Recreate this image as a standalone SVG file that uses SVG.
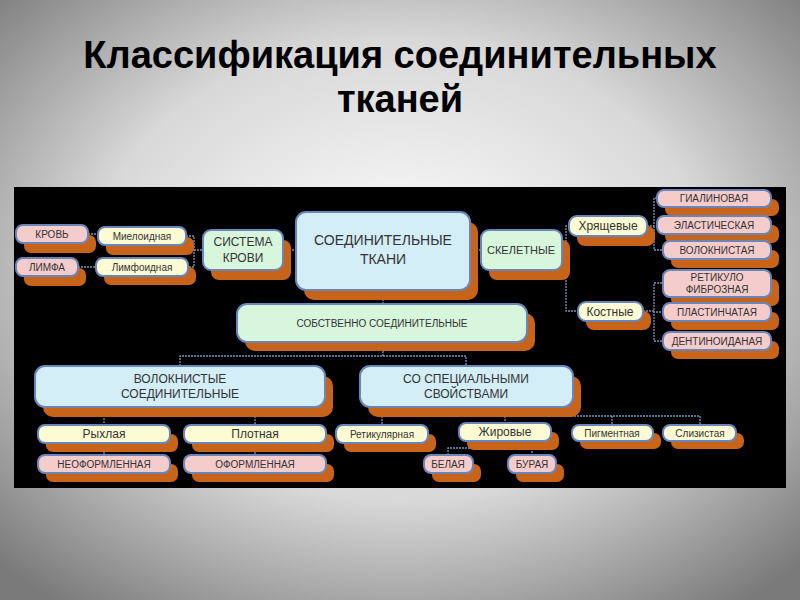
<svg xmlns="http://www.w3.org/2000/svg" width="800" height="600" viewBox="0 0 800 600">
<defs>
<radialGradient id="bg" cx="50%" cy="45%" r="70%"><stop offset="0" stop-color="#ffffff"/><stop offset="0.55" stop-color="#d8d8d8"/><stop offset="1" stop-color="#7a7a7a"/></radialGradient>
</defs>
<style>
.sh{fill:#c8641a}
.b{stroke:#6a86b8;stroke-width:2}
.pk{fill:#f4cccc}.yl{fill:#fdfbd4}.gr{fill:#d8f6dc}.bl{fill:#d4eef8}
text{font-family:"Liberation Sans",Arial,sans-serif;fill:#333;text-anchor:middle}
.s{font-size:10px}.m{font-size:12px}.l{font-size:14px}
.c{fill:none;stroke:#7c94bf;stroke-width:1.3;stroke-dasharray:2 1}
</style>
<rect width="800" height="600" fill="url(#bg)"/>
<text x="400" y="68" style="font-size:38px;font-weight:bold;fill:#000">Классификация соединительных</text>
<text x="400" y="112" style="font-size:38px;font-weight:bold;fill:#000">тканей</text>
<rect x="14" y="187" width="772" height="301" fill="#000"/>
<g id="connectors">
<path class="c" d="M88 234H98M78 267H96M186 236H194V267H188M194 250H203M283 250H296M470 250H481M562 250H566V226H569M566 250V311H578M647 226H654V198H657M654 226V250H663M643 311H654V283H663M654 311V312H663M654 311V341H663M383 290V304M383 342V356H180V366M383 356H466V366M180 407V416H104V425M180 416H255V425M104 443V455M255 443V455M466 407V416H382V425M466 416H700V425M505 416V423M612 416V425M505 441V448H448V455M505 448H532V455"/>
</g>
<g id="krov"><rect class="sh" x="24" y="235" width="72" height="18" rx="7"/><rect class="pk b" x="16" y="225" width="72" height="18" rx="7"/><text class="s" x="52" y="238">КРОВЬ</text></g>
<g id="limfa"><rect class="sh" x="24" y="268" width="62" height="18" rx="7"/><rect class="pk b" x="16" y="258" width="62" height="18" rx="7"/><text class="s" x="47" y="271">ЛИМФА</text></g>
<g id="mieloid"><rect class="sh" x="106" y="237" width="88" height="18" rx="7"/><rect class="yl b" x="98" y="227" width="88" height="18" rx="7"/><text class="s" x="142" y="240">Миелоидная</text></g>
<g id="limfoid"><rect class="sh" x="104" y="267" width="92" height="18" rx="7"/><rect class="yl b" x="96" y="258" width="92" height="18" rx="7"/><text class="s" x="142" y="271">Лимфоидная</text></g>
<g id="sistema"><rect class="sh" x="211" y="240" width="80" height="40" rx="8"/><rect class="gr b" x="203" y="230" width="80" height="40" rx="8"/><text class="m" x="243" y="246">СИСТЕМА</text><text class="m" x="243" y="262">КРОВИ</text></g>
<g id="soed"><rect class="sh" x="304" y="222" width="174" height="78" rx="10"/><rect class="bl b" x="296" y="212" width="174" height="78" rx="10"/><text class="l" x="383" y="245">СОЕДИНИТЕЛЬНЫЕ</text><text class="l" x="383" y="264">ТКАНИ</text></g>
<g id="skelet"><rect class="sh" x="489" y="240" width="81" height="40" rx="8"/><rect class="gr b" x="481" y="230" width="81" height="40" rx="8"/><text x="521" y="254" style="font-size:11px">СКЕЛЕТНЫЕ</text></g>
<g id="hrysh"><rect class="sh" x="577" y="226" width="78" height="20" rx="8"/><rect class="yl b" x="569" y="216" width="78" height="20" rx="8"/><text class="m" x="608" y="230">Хрящевые</text></g>
<g id="kost"><rect class="sh" x="586" y="311" width="65" height="19" rx="8"/><rect class="yl b" x="578" y="302" width="65" height="19" rx="8"/><text class="m" x="610" y="316">Костные</text></g>
<g id="gial"><rect class="sh" x="665" y="199" width="114" height="17" rx="7"/><rect class="pk b" x="657" y="190" width="114" height="17" rx="7"/><text class="s" x="714" y="202">ГИАЛИНОВАЯ</text></g>
<g id="elast"><rect class="sh" x="665" y="225" width="114" height="18" rx="7"/><rect class="pk b" x="657" y="216" width="114" height="18" rx="7"/><text class="s" x="714" y="229">ЭЛАСТИЧЕСКАЯ</text></g>
<g id="volok1"><rect class="sh" x="671" y="250" width="108" height="18" rx="7"/><rect class="pk b" x="663" y="241" width="108" height="18" rx="7"/><text class="s" x="717" y="254">ВОЛОКНИСТАЯ</text></g>
<g id="retfib"><rect class="sh" x="671" y="279" width="108" height="27" rx="7"/><rect class="pk b" x="663" y="270" width="108" height="27" rx="7"/><text class="s" x="717" y="281">РЕТИКУЛО</text><text class="s" x="717" y="293">ФИБРОЗНАЯ</text></g>
<g id="plast"><rect class="sh" x="671" y="312" width="108" height="18" rx="7"/><rect class="pk b" x="663" y="303" width="108" height="18" rx="7"/><text class="s" x="717" y="316">ПЛАСТИНЧАТАЯ</text></g>
<g id="dent"><rect class="sh" x="671" y="341" width="108" height="18" rx="7"/><rect class="pk b" x="663" y="332" width="108" height="18" rx="7"/><text class="s" x="717" y="345">ДЕНТИНОИДАНАЯ</text></g>
<g id="sobstv"><rect class="sh" x="245" y="313" width="290" height="38" rx="10"/><rect class="gr b" x="237" y="304" width="290" height="38" rx="10"/><text class="s" x="382" y="327">СОБСТВЕННО СОЕДИНИТЕЛЬНЫЕ</text></g>
<g id="voloknistye"><rect class="sh" x="43" y="376" width="290" height="41" rx="10"/><rect class="bl b" x="35" y="366" width="290" height="41" rx="10"/><text class="m" x="180" y="383">ВОЛОКНИСТЫЕ</text><text class="m" x="180" y="398">СОЕДИНИТЕЛЬНЫЕ</text></g>
<g id="specialnye"><rect class="sh" x="368" y="376" width="213" height="41" rx="10"/><rect class="bl b" x="360" y="366" width="213" height="41" rx="10"/><text class="m" x="466" y="383">СО СПЕЦИАЛЬНЫМИ</text><text class="m" x="466" y="398">СВОЙСТВАМИ</text></g>
<g id="ryhlaya"><rect class="sh" x="46" y="434" width="132" height="18" rx="7"/><rect class="yl b" x="38" y="425" width="132" height="18" rx="7"/><text class="m" x="104" y="438">Рыхлая</text></g>
<g id="plotnaya"><rect class="sh" x="192" y="434" width="142" height="18" rx="7"/><rect class="yl b" x="184" y="425" width="142" height="18" rx="7"/><text class="m" x="255" y="438">Плотная</text></g>
<g id="neoform"><rect class="sh" x="46" y="464" width="132" height="18" rx="7"/><rect class="pk b" x="38" y="455" width="132" height="18" rx="7"/><text class="s" x="104" y="468">НЕОФОРМЛЕННАЯ</text></g>
<g id="oform"><rect class="sh" x="192" y="464" width="142" height="18" rx="7"/><rect class="pk b" x="184" y="455" width="142" height="18" rx="7"/><text class="s" x="255" y="468">ОФОРМЛЕННАЯ</text></g>
<g id="retik"><rect class="sh" x="344" y="434" width="92" height="18" rx="7"/><rect class="yl b" x="336" y="425" width="92" height="18" rx="7"/><text class="s" x="382" y="438">Ретикулярная</text></g>
<g id="zhir"><rect class="sh" x="467" y="432" width="92" height="18" rx="7"/><rect class="yl b" x="459" y="423" width="92" height="18" rx="7"/><text class="m" x="505" y="436">Жировые</text></g>
<g id="pigm"><rect class="sh" x="580" y="433" width="81" height="16" rx="7"/><rect class="yl b" x="572" y="425" width="81" height="16" rx="7"/><text class="s" x="612" y="437">Пигментная</text></g>
<g id="sliz"><rect class="sh" x="671" y="433" width="73" height="16" rx="7"/><rect class="yl b" x="663" y="425" width="73" height="16" rx="7"/><text class="s" x="700" y="437">Слизистая</text></g>
<g id="belaya"><rect class="sh" x="432" y="464" width="49" height="18" rx="7"/><rect class="pk b" x="424" y="455" width="49" height="18" rx="7"/><text class="s" x="448" y="468">БЕЛАЯ</text></g>
<g id="buraya"><rect class="sh" x="516" y="464" width="48" height="18" rx="7"/><rect class="pk b" x="508" y="455" width="48" height="18" rx="7"/><text class="s" x="532" y="468">БУРАЯ</text></g>
</svg>
